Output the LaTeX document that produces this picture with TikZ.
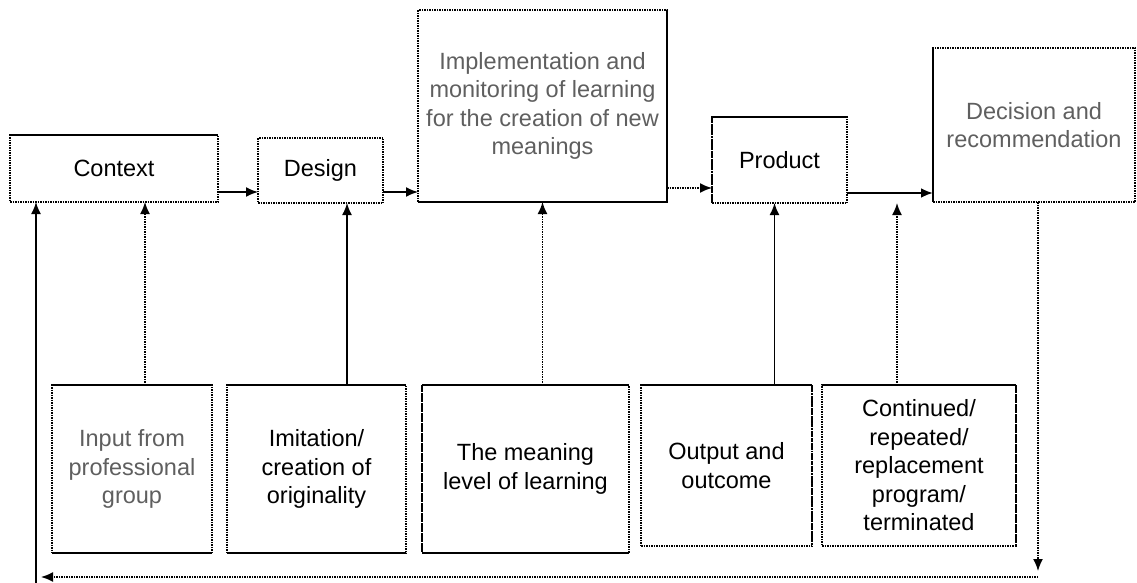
\documentclass[tikz,border=0pt]{standalone}
\usepackage{fontspec}
\setmainfont{Liberation Sans}
\usepackage{tikz}
\usetikzlibrary{arrows.meta,positioning,calc}
\definecolor{mygray}{RGB}{95,95,95}

\begin{document}
\begin{tikzpicture}[x=1pt, y=-1pt, font=\fontsize{23.5}{28.5}\selectfont, >={Latex[length=12pt,width=10pt]}]
    \tikzstyle{b}=[draw, line width=1.6pt, dash pattern=on 1.5pt off 1pt, inner sep=0pt, outer sep=0pt, align=center]
    \tikzstyle{sol}=[line width=1.7pt]
    \tikzstyle{dot}=[line width=1.6pt, dash pattern=on 1.5pt off 1pt]
    \useasboundingbox (0,0) rectangle (1137,583);
    % top row
    \node[b, minimum width=208pt, minimum height=67pt] (ctx) at (114,168.5) {Context};
    \node[b, minimum width=125pt, minimum height=65pt] (des) at (320.5,170.5) {Design};
    \node[b, minimum width=249pt, minimum height=192pt, text=mygray] (impl) at (542.5,106) {Implementation and\\monitoring of learning\\for the creation of new\\meanings};
    \node[b, minimum width=135pt, minimum height=86pt] (prod) at (779.5,160) {Product};
    \node[b, minimum width=202pt, minimum height=154pt, text=mygray] (dec) at (1034,125) {Decision and\\recommendation};
    % bottom row
    \node[b, minimum width=160pt, minimum height=168pt, text=mygray] (inp) at (132,469) {Input from\\professional\\group};
    \node[b, minimum width=179pt, minimum height=168pt] (imit) at (316.5,469) {Imitation/\\creation of\\originality};
    \node[b, minimum width=207pt, minimum height=168pt] (mean) at (525.5,469) {The meaning\\level of learning};
    \node[b, minimum width=171pt, minimum height=161pt] (outp) at (726.5,465.5) {Output and\\outcome};
    \node[b, minimum width=194pt, minimum height=161pt] (cont) at (919,465.5) {Continued/\\repeated/\\replacement\\program/\\terminated};
    % solid and dashed sides
    \draw[sol] (ctx.north west) -- (ctx.north east);
    \draw[sol] (impl.north east) -- (impl.south east) -- (impl.south west);
    \draw[sol] (prod.north west) -- (prod.north east);
    \draw[sol, dash pattern=on 6pt off 2pt on 1.5pt off 2pt] (prod.north west) -- (prod.south west);
    \draw[sol] (dec.north west) -- (dec.south west);
    \draw[sol] (inp.north west) -- (inp.north east) (inp.south west) -- (inp.south east);
    \draw[sol] (imit.north west) -- (imit.north east) (imit.south west) -- (imit.south east);
    \draw[sol] (mean.north west) -- (mean.north east) (mean.south west) -- (mean.south east);
    \draw[sol, dash pattern=on 7pt off 3pt] (mean.north west) -- (mean.south west);
    \draw[sol] (outp.north west) -- (outp.north east);
    \draw[sol, dash pattern=on 6pt off 2pt on 1.5pt off 2pt] (outp.north east) -- (outp.south east);
    \draw[sol] (cont.north west) -- (cont.north east);
    \draw[sol, dash pattern=on 7pt off 3pt] (cont.north east) -- (cont.south east);
    % flow along the top
    \draw[sol, ->] ([yshift=-23.5pt]ctx.east) -- ([yshift=-23.5pt]ctx.east -| des.west);
    \draw[sol, ->] ([yshift=-21.5pt]des.east) -- ([yshift=-21.5pt]des.east -| impl.west);
    \draw[dot, ->] ([yshift=-82pt]impl.east) -- ([yshift=-82pt]impl.east -| prod.west);
    \draw[line width=2.8pt, ->] ([yshift=-33pt]prod.east) -- ([yshift=-33pt]prod.east -| dec.west);
    % inputs from below
    \draw[dot, ->] ([xshift=13pt]inp.north) -- ([xshift=13pt]inp.north |- ctx.south);
    \draw[sol, ->] ([xshift=30.5pt]imit.north) -- ([xshift=30.5pt]imit.north |- des.south);
    \draw[dot, ->] (mean.north -| impl.south) -- (impl.south);
    \draw[sol, ->] ([xshift=-5pt]prod.south |- outp.north) -- ([xshift=-5pt]prod.south);
    \draw[dot, ->] ([xshift=-22pt]cont.north) -- ([xshift=-22pt]cont.north |- prod.south);
    % feedback loop
    \coordinate (fbr) at (1038,577);
    \coordinate (fbl) at (36,577);
    \coordinate (fbb) at (36,583);
    \draw[dot, ->] ([xshift=4pt]dec.south) -- ([yshift=6pt]fbr);
    \draw[dot, ->] (fbr) -- ([xshift=5pt]fbl);
    \draw[sol, ->] (fbb) -- (fbl |- ctx.south);
\end{tikzpicture}
\end{document}
